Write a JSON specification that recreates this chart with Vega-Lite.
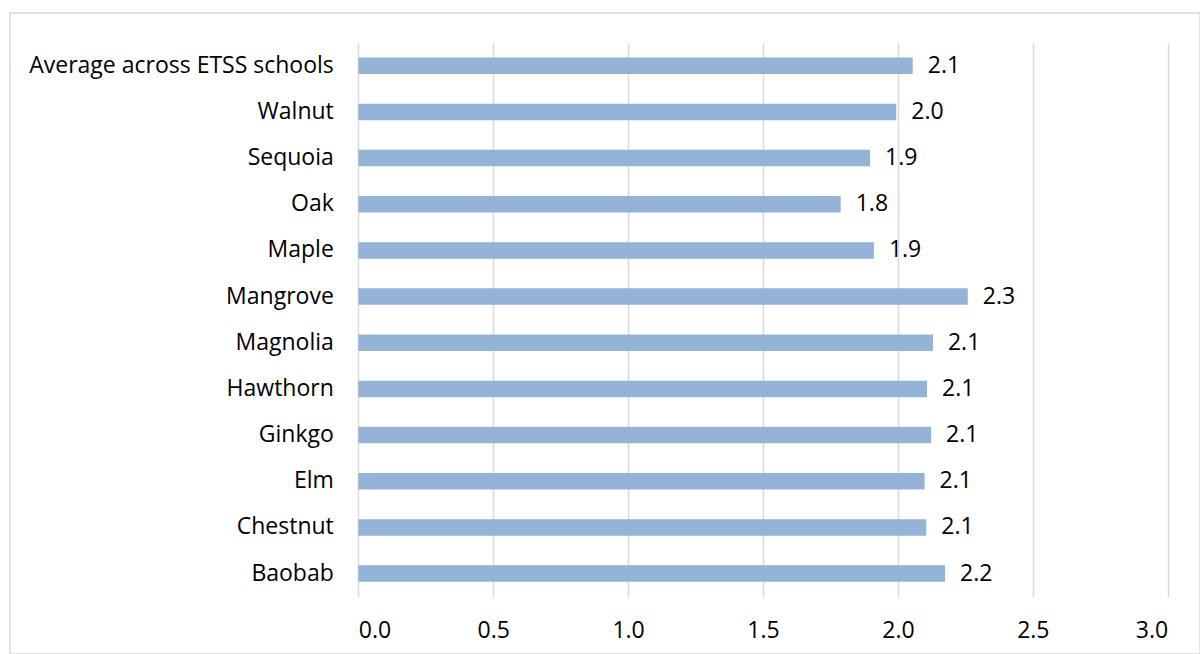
{
  "$schema": "https://vega.github.io/schema/vega-lite/v6.json",
  "width": 1190,
  "height": 641,
  "autosize": {"type": "none"},
  "padding": {"left": 10, "top": 13, "right": 0, "bottom": 0},
  "background": "white",
  "config": {
    "view": {"stroke": "#d9d9d9", "strokeWidth": 1.5},
    "font": "Open Sans",
    "axis": {"labelFont": "Open Sans", "labelColor": "#000000"}
  },
  "data": {
    "values": [
      {"school": "Average across ETSS schools", "score": 2.055},
      {"school": "Walnut", "score": 1.994},
      {"school": "Sequoia", "score": 1.897},
      {"school": "Oak", "score": 1.788},
      {"school": "Maple", "score": 1.911},
      {"school": "Mangrove", "score": 2.259},
      {"school": "Magnolia", "score": 2.13},
      {"school": "Hawthorn", "score": 2.108},
      {"school": "Ginkgo", "score": 2.123},
      {"school": "Elm", "score": 2.099},
      {"school": "Chestnut", "score": 2.105},
      {"school": "Baobab", "score": 2.175}
    ]
  },
  "encoding": {
    "y": {
      "field": "school",
      "type": "nominal",
      "sort": null,
      "title": null,
      "scale": {"paddingInner": 0, "paddingOuter": 0, "range": [29.7, 583.7]},
      "axis": {"ticks": false, "domain": false, "offset": -348.3, "labelPadding": 25, "labelFontSize": 23, "labelLimit": 0, "grid": false}
    }
  },
  "layer": [
    {
      "mark": {"type": "bar", "color": "#95b3d7", "size": 16.5},
      "encoding": {
        "x": {
          "field": "score",
          "type": "quantitative",
          "title": null,
          "scale": {"domain": [0, 3], "nice": false, "range": [348.3, 1157.7]},
          "axis": {
            "orient": "top",
            "values": [0, 0.5, 1, 1.5, 2, 2.5, 3],
            "labels": false,
            "ticks": false,
            "domain": false,
            "grid": true,
            "gridColor": "#d9d9d9",
            "gridWidth": 1.5
          }
        }
      }
    },
    {
      "mark": {"type": "text", "align": "left", "baseline": "middle", "dx": 15, "fontSize": 23, "font": "Open Sans", "color": "#000000"},
      "encoding": {
        "x": {
          "field": "score",
          "type": "quantitative",
          "title": null,
          "axis": {
            "orient": "bottom",
            "values": [0, 0.5, 1, 1.5, 2, 2.5, 3],
            "format": ".1f",
            "ticks": false,
            "domain": false,
            "offset": -57.3,
            "labelPadding": 23,
            "labelFontSize": 23,
            "grid": false
          }
        },
        "text": {"field": "score", "type": "quantitative", "format": ".1f"}
      }
    }
  ],
  "resolve": {"axis": {"x": "independent"}}
}
